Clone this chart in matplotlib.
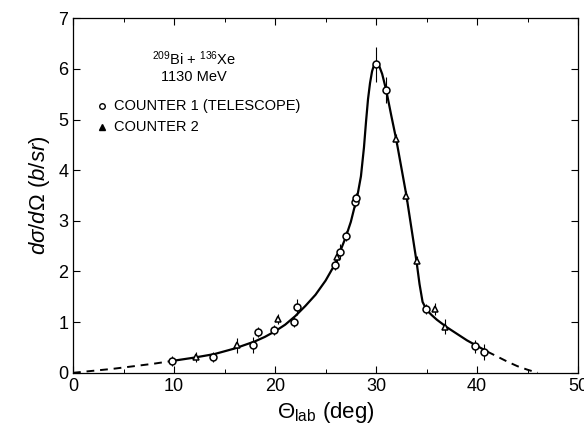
import matplotlib.pyplot as plt

plt.rcParams['font.family'] = ['Liberation Sans', 'DejaVu Sans']
plt.rcParams['mathtext.fontset'] = 'custom'
plt.rcParams['mathtext.rm'] = 'Liberation Sans'
plt.rcParams['mathtext.it'] = 'Liberation Sans:italic'

# counter 1 (telescope) - open circles
c1_theta = [9.8, 13.9, 17.8, 18.3, 19.9, 21.9, 22.2, 25.9, 26.4, 27.0, 27.9, 28.0, 30.0, 31.0, 34.9, 39.8, 40.7]
c1_sigma = [0.24, 0.32, 0.55, 0.80, 0.85, 1.00, 1.30, 2.13, 2.39, 2.70, 3.38, 3.45, 6.09, 5.58, 1.26, 0.52, 0.41]
c1_err = [0.10, 0.10, 0.15, 0.10, 0.10, 0.10, 0.15, 0.10, 0.15, 0.10, 0.10, 0.10, 0.35, 0.25, 0.10, 0.12, 0.15]

# counter 2 - triangles
c2_theta = [12.2, 16.2, 20.3, 26.1, 32.0, 33.0, 34.0, 35.8, 36.8]
c2_sigma = [0.32, 0.54, 1.06, 2.28, 4.61, 3.49, 2.21, 1.26, 0.91]
c2_err = [0.10, 0.15, 0.10, 0.15, 0.10, 0.10, 0.10, 0.12, 0.15]

# hand-drawn fit curve
curve_theta = [0, 2, 4, 6, 8, 10, 12, 14, 16, 18, 19, 20, 21, 22, 22.5, 23, 24, 25, 26, 27,
               27.5, 28, 28.2, 28.5, 28.8, 29, 29.2, 29.4, 29.6, 29.8, 30, 30.3, 30.6, 31, 31.5,
               32, 32.5, 33, 33.5, 34, 34.3, 34.6, 35, 35.5, 36, 37, 38, 39, 40, 41, 42, 43,
               44, 45, 46]
curve_sigma = [0.0, 0.04, 0.08, 0.13, 0.18, 0.24, 0.30, 0.37, 0.48, 0.62, 0.71, 0.82, 0.95,
               1.12, 1.22, 1.32, 1.54, 1.82, 2.17, 2.68, 2.98, 3.38, 3.55, 3.88, 4.45, 4.95,
               5.40, 5.72, 5.95, 6.08, 6.12, 6.06, 5.90, 5.58, 5.08, 4.60, 4.05, 3.50, 2.85,
               2.20, 1.75, 1.40, 1.24, 1.14, 1.05, 0.90, 0.77, 0.64, 0.53, 0.42, 0.32, 0.22,
               0.13, 0.06, 0.0]

fig = plt.figure(figsize=(5.84, 4.33), dpi=100)
ax = fig.add_axes([0.125, 0.139, 0.865, 0.819])

# dashed extrapolations, solid in the measured range
i10 = curve_theta.index(10)
i41 = curve_theta.index(41)
ax.plot(curve_theta[:i10 + 1], curve_sigma[:i10 + 1], color='black', lw=1.4, ls=(0, (4, 3)))
ax.plot(curve_theta[i10:i41 + 1], curve_sigma[i10:i41 + 1], color='black', lw=1.6)
ax.plot(curve_theta[i41:], curve_sigma[i41:], color='black', lw=1.4, ls=(0, (4, 3)))

ax.errorbar(c1_theta, c1_sigma, yerr=c1_err, fmt='o', ms=5, mfc='white', mec='black',
            mew=1.1, ecolor='black', elinewidth=0.8, capsize=0)
ax.errorbar(c2_theta, c2_sigma, yerr=c2_err, fmt='^', ms=5, mfc='white', mec='black',
            mew=1.1, ecolor='black', elinewidth=0.8, capsize=0)

ax.set_xlim(0, 50)
ax.set_ylim(0, 7)
ax.set_xticks(range(0, 51, 10))
ax.set_xticks(range(5, 50, 10), minor=True)
ax.set_yticks(range(0, 8))
ax.tick_params(direction='in', length=5, width=0.8, labelsize=13, top=True, right=True,
               labeltop=False, labelright=False)
ax.tick_params(which='minor', direction='in', length=3, width=0.7, top=True)
for s in ax.spines.values():
    s.set_linewidth(0.9)

ax.set_xlabel(r'$\Theta_{\rm lab}$ (deg)', fontsize=16)
ax.set_ylabel(r'$d\sigma/d\Omega$ $(b/sr)$', fontsize=16)

ax.text(12, 6.2, r'$^{209}$Bi + $^{136}$Xe', ha='center', va='center', fontsize=10.5)
ax.text(12, 5.83, '1130 MeV', ha='center', va='center', fontsize=10.5)
ax.plot([2.9], [5.27], 'o', ms=4, mfc='white', mec='black', mew=1.0)
ax.text(4.1, 5.27, 'COUNTER 1 (TELESCOPE)', va='center', fontsize=10.5)
ax.plot([2.9], [4.86], '^', ms=4, mfc='black', mec='black', mew=1.0)
ax.text(4.1, 4.86, 'COUNTER 2', va='center', fontsize=10.5)

fig.savefig('out.png', dpi=100)
